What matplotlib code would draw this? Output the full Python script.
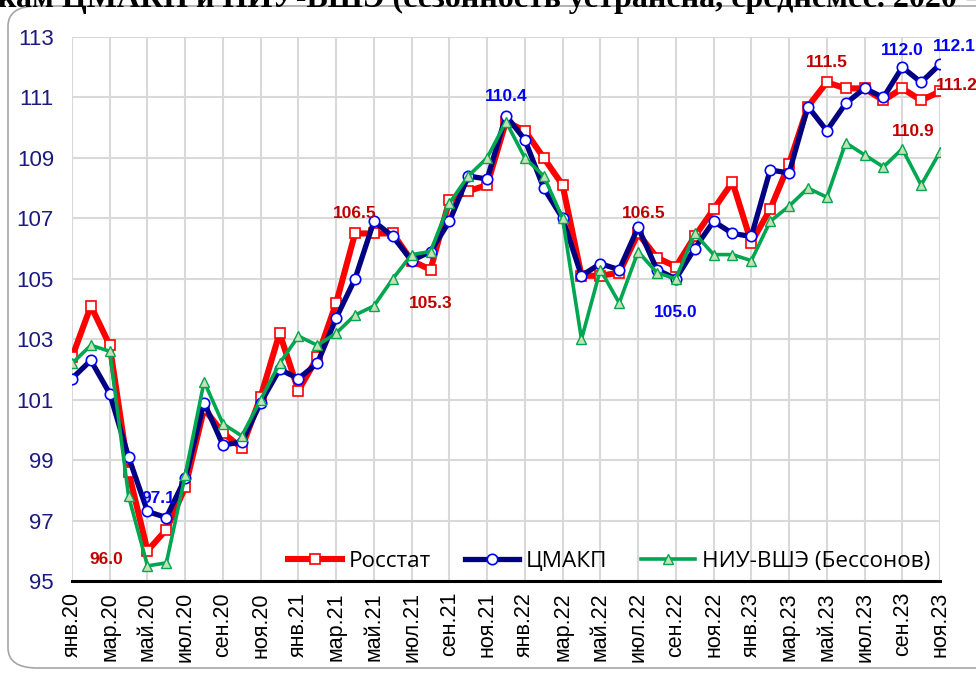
import matplotlib
matplotlib.use("Agg")
import matplotlib.pyplot as plt
from matplotlib.patches import FancyBboxPatch

# месяцы янв.2020 - ноя.2023
month_names = ['янв', 'фев', 'мар', 'апр', 'май', 'июн',
               'июл', 'авг', 'сен', 'окт', 'ноя', 'дек']
years = ['20', '21', '22', '23']
months = [m + '.' + y for y in years for m in month_names][:47]

rosstat = [102.4, 104.1, 102.8, 98.6, 96.0, 96.7, 98.1, 100.7, 99.9, 99.4, 101.1, 103.2,
           101.3, 102.4, 104.2, 106.5, 106.5, 106.5, 105.6, 105.3, 107.6, 107.9, 108.1, 110.2,
           109.9, 109.0, 108.1, 105.1, 105.1, 105.2, 106.5, 105.7, 105.4, 106.4, 107.3, 108.2,
           106.2, 107.3, 108.8, 110.7, 111.5, 111.3, 111.3, 110.9, 111.3, 110.9, 111.2]
cmakp = [101.7, 102.3, 101.2, 99.1, 97.3, 97.1, 98.4, 100.9, 99.5, 99.6, 100.9, 102.0,
         101.7, 102.2, 103.7, 105.0, 106.9, 106.4, 105.6, 105.9, 106.9, 108.4, 108.3, 110.4,
         109.6, 108.0, 107.0, 105.1, 105.5, 105.3, 106.7, 105.3, 105.0, 106.0, 106.9, 106.5,
         106.4, 108.6, 108.5, 110.7, 109.9, 110.8, 111.3, 111.0, 112.0, 111.5, 112.1]
hse = [102.2, 102.8, 102.6, 97.8, 95.5, 95.6, 98.5, 101.6, 100.2, 99.8, 101.0, 102.2,
       103.1, 102.8, 103.2, 103.8, 104.1, 105.0, 105.8, 105.9, 107.5, 108.4, 109.0, 110.2,
       109.0, 108.4, 107.0, 103.0, 105.3, 104.2, 105.9, 105.2, 105.0, 106.5, 105.8, 105.8,
       105.6, 106.9, 107.4, 108.0, 107.7, 109.5, 109.1, 108.7, 109.3, 108.1, 109.2]

# подписи: (индекс месяца, смещение в пунктах)
red_labels = [(4, (-30, -6)), (15, (0, 14)), (19, (0, -24)), (30, (4, 14)),
              (40, (0, 14)), (45, (-6, -22)), (46, (12, 4))]
blue_labels = [(5, (-6, 14)), (23, (0, 14)), (32, (0, -24)), (44, (0, 12)), (46, (10, 13))]

x = list(range(len(months)))

fig = plt.figure(figsize=(9.76, 6.74), dpi=100)
fig.patches.append(FancyBboxPatch((8 / 976, 6 / 674), 1.2, 662 / 674,
                                  boxstyle="round,pad=0,rounding_size=0.03",
                                  transform=fig.transFigure, facecolor='white',
                                  edgecolor='#a6a6a6', linewidth=1.2, zorder=-5))
fig.text(-2 / 976, 1 - 7 / 674,
         'кам ЦМАКП и НИУ-ВШЭ (сезонность устранена, среднемес. 2020 = 100)',
         fontsize=23, fontweight='bold', family='Liberation Serif', va='baseline', ha='left')

ax = fig.add_axes([72 / 976, 93 / 674, 868 / 976, 544 / 674])
ax.set_facecolor('none')

ax.plot(x, rosstat, color='#ff0000', lw=4.4, marker='s', ms=7.5, mfc='white',
        mec='#ff0000', mew=1.2, label='Росстат', zorder=3)
ax.plot(x, cmakp, color='#000080', lw=3.8, marker='o', ms=7.5, mfc='white',
        mec='#0000ff', mew=1.2, label='ЦМАКП', zorder=4)
ax.plot(x, hse, color='#00a650', lw=2.6, marker='^', ms=7, mfc='#c5e0b4',
        mec='#00a650', mew=1.0, label='НИУ-ВШЭ (Бессонов)', zorder=5)

lab_font = ['Liberation Sans Narrow', 'Liberation Sans']
for i, off in red_labels:
    ax.annotate(f'{rosstat[i]:.1f}', (i, rosstat[i]), xytext=off, textcoords='offset points',
                ha='center', va='center', color='#c00000', fontsize=12.5, fontweight='bold',
                family=lab_font, annotation_clip=False, zorder=6)
for i, off in blue_labels:
    ax.annotate(f'{cmakp[i]:.1f}', (i, cmakp[i]), xytext=off, textcoords='offset points',
                ha='center', va='center', color='#0000ff', fontsize=12.5, fontweight='bold',
                family=lab_font, annotation_clip=False, zorder=6)

ax.set_xlim(0, len(months) - 1)
ax.set_ylim(95, 113)
ax.set_yticks(range(95, 114, 2))
ax.set_xticks(x[::2])
ax.set_xticklabels(months[::2], rotation=90, fontsize=15.5, family='Liberation Sans')
for t in ax.get_yticklabels():
    t.set_fontsize(16)
    t.set_family('Liberation Sans')
    t.set_color('#1a1a80')
ax.tick_params(axis='y', length=0, pad=13)
ax.tick_params(axis='x', length=0, pad=8)

ax.grid(True, color='#d9d9d9', lw=1.5, zorder=0)
ax.set_axisbelow(True)
for s in ['left', 'right', 'top']:
    ax.spines[s].set_visible(False)
ax.spines['bottom'].set_color('black')
ax.spines['bottom'].set_linewidth(2.2)
ax.spines['bottom'].set_zorder(6)

leg = ax.legend(loc='lower right', bbox_to_anchor=(1.012, -0.02), ncol=3, frameon=False,
                prop={'family': 'Open Sans', 'size': 16.2}, handlelength=2.4,
                columnspacing=1.5, handletextpad=0.3)

fig.savefig('out.png', dpi=100)
